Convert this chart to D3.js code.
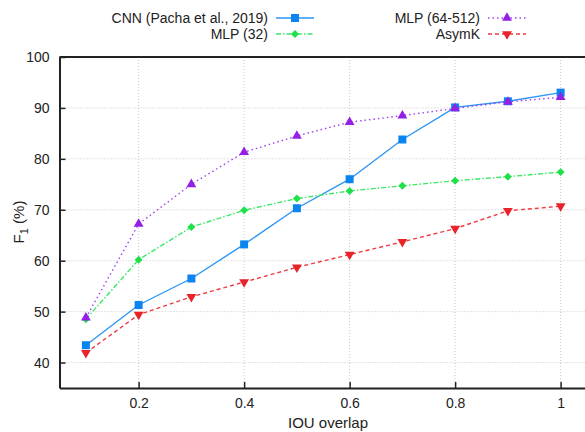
<!DOCTYPE html>
<html>
<head>
<meta charset="utf-8">
<script src="https://cdn.jsdelivr.net/npm/d3@7"></script>
<style>
  body { margin: 0; background: #fff; }
  text { font-family: "Liberation Sans", Arial, sans-serif; fill: #222; }
</style>
</head>
<body>
<svg id="chart"></svg>
<script>
// data
const overlap = [0.1, 0.2, 0.3, 0.4, 0.5, 0.6, 0.7, 0.8, 0.9, 1.0];
const cnn     = [43.4, 51.3, 56.5, 63.2, 70.3, 76.0, 83.8, 90.1, 91.3, 93.0];
const mlp32   = [48.5, 60.2, 66.6, 69.9, 72.2, 73.7, 74.7, 75.7, 76.5, 77.4];
const mlpBig  = [48.8, 67.2, 75.0, 81.3, 84.5, 87.2, 88.5, 89.9, 91.2, 92.1];
const asymk   = [41.9, 49.4, 52.9, 55.8, 58.7, 61.2, 63.7, 66.3, 69.8, 70.7];
const xTicks = [0.2, 0.4, 0.6, 0.8, 1];
const yTicks = [40, 50, 60, 70, 80, 90, 100];

const series = [
    { name: "CNN (Pacha et al., 2019)", values: cnn, color: "#0a84ee", line: "#2c95f5", dash: null, symbol: d3.symbolSquare, size: 64, col: 0, row: 0 },
    { name: "MLP (32)", values: mlp32, color: "#1ee04a", line: "#3ae864", dash: "5,2,1.5,2", symbol: d3.symbolDiamond2, size: 40, col: 0, row: 1 },
    { name: "MLP (64-512)", values: mlpBig, color: "#9420e6", line: "#a040ee", dash: "1.5,3", symbol: d3.symbolTriangle, size: 42, col: 1, row: 0 },
    { name: "AsymK", values: asymk, color: "#e8232a", line: "#ee3a40", dash: "4,3", symbol: d3.symbolTriangle, size: 42, flip: true, col: 1, row: 1 }
];

const width = 585, height = 432;
const svg = d3.select("#chart")
    .attr("width", width)
    .attr("height", height);

const margins = { top: 57, right: -2, bottom: 44, left: 59.5 };
const graphWidth = width - margins.left - margins.right;
const graphHeight = height - margins.top - margins.bottom;

const g = svg.append("g")
    .attr("transform", `translate(${margins.left}, ${margins.top})`);

const xScale = d3.scaleLinear()
    .domain([0.05, 1.05])
    .range([0, graphWidth]);

const yScale = d3.scaleLinear()
    .domain([35, 100])
    .range([graphHeight, 0]);

// grid
g.append("g").selectAll("line")
    .data(xTicks)
    .enter().append("line")
    .attr("x1", d => xScale(d)).attr("x2", d => xScale(d))
    .attr("y1", 0).attr("y2", graphHeight)
    .attr("stroke", "#c8c8c8").attr("stroke-dasharray", "1,2");

g.append("g").selectAll("line")
    .data(yTicks)
    .enter().append("line")
    .attr("x1", 0).attr("x2", graphWidth)
    .attr("y1", d => yScale(d)).attr("y2", d => yScale(d))
    .attr("stroke", "#c8c8c8").attr("stroke-dasharray", "1,2");

// axes
const xAxis = d3.axisBottom(xScale).tickValues(xTicks).tickFormat(d => d === 1 ? "1" : d3.format(".1f")(d))
    .tickSizeInner(-6).tickSizeOuter(0).tickPadding(10);
const yAxis = d3.axisLeft(yScale).tickValues(yTicks)
    .tickSizeInner(-6).tickSizeOuter(0).tickPadding(10);

const xAxisGroup = g.append("g")
    .attr("transform", `translate(0, ${graphHeight})`)
    .call(xAxis);
const yAxisGroup = g.append("g").call(yAxis);

[xAxisGroup, yAxisGroup].forEach(ax => {
    ax.select(".domain").attr("stroke", "#222").attr("stroke-width", 2);
    ax.selectAll(".tick line").attr("stroke", "#222").attr("stroke-width", 1.5);
    ax.selectAll("text").style("font-size", "14px").attr("fill", "#222");
});

// top border
g.append("line")
    .attr("x1", 0).attr("x2", graphWidth)
    .attr("y1", 0).attr("y2", 0)
    .attr("stroke", "#222").attr("stroke-width", 2);

// axis labels
svg.append("text")
    .attr("x", 328).attr("y", 428)
    .attr("text-anchor", "middle")
    .style("font-size", "15px")
    .text("IOU overlap");

const yLabel = svg.append("text")
    .attr("transform", "translate(24, 222) rotate(-90)")
    .attr("text-anchor", "middle")
    .style("font-size", "15px");
yLabel.append("tspan").text("F");
yLabel.append("tspan").attr("dy", 4).style("font-size", "11px").text("1");
yLabel.append("tspan").attr("dy", -4).text(" (%)");

// lines and markers
const lineGen = d3.line()
    .x((d, i) => xScale(overlap[i]))
    .y(d => yScale(d));

series.forEach(s => {
    g.append("path")
        .datum(s.values)
        .attr("d", lineGen)
        .attr("fill", "none")
        .attr("stroke", s.line)
        .attr("stroke-width", 1.4)
        .attr("stroke-dasharray", s.dash);

    g.selectAll(null)
        .data(s.values)
        .enter().append("path")
        .attr("d", d3.symbol().type(s.symbol).size(s.size))
        .attr("transform", (d, i) => `translate(${xScale(overlap[i])}, ${yScale(d)})` + (s.flip ? " rotate(180)" : ""))
        .attr("fill", s.color);
});

// legend
const legendX = [268, 480];
const legendY = [18, 34];
series.forEach(s => {
    const lx = legendX[s.col], ly = legendY[s.row];
    svg.append("text")
        .attr("x", lx).attr("y", ly + 5)
        .attr("text-anchor", "end")
        .style("font-size", "14px")
        .text(s.name);
    svg.append("line")
        .attr("x1", lx + 8).attr("x2", lx + 46)
        .attr("y1", ly).attr("y2", ly)
        .attr("stroke", s.line)
        .attr("stroke-width", 1.4)
        .attr("stroke-dasharray", s.dash);
    svg.append("path")
        .attr("d", d3.symbol().type(s.symbol).size(s.size))
        .attr("transform", `translate(${lx + 27}, ${ly})` + (s.flip ? " rotate(180)" : ""))
        .attr("fill", s.color);
});
</script>
</body>
</html>
